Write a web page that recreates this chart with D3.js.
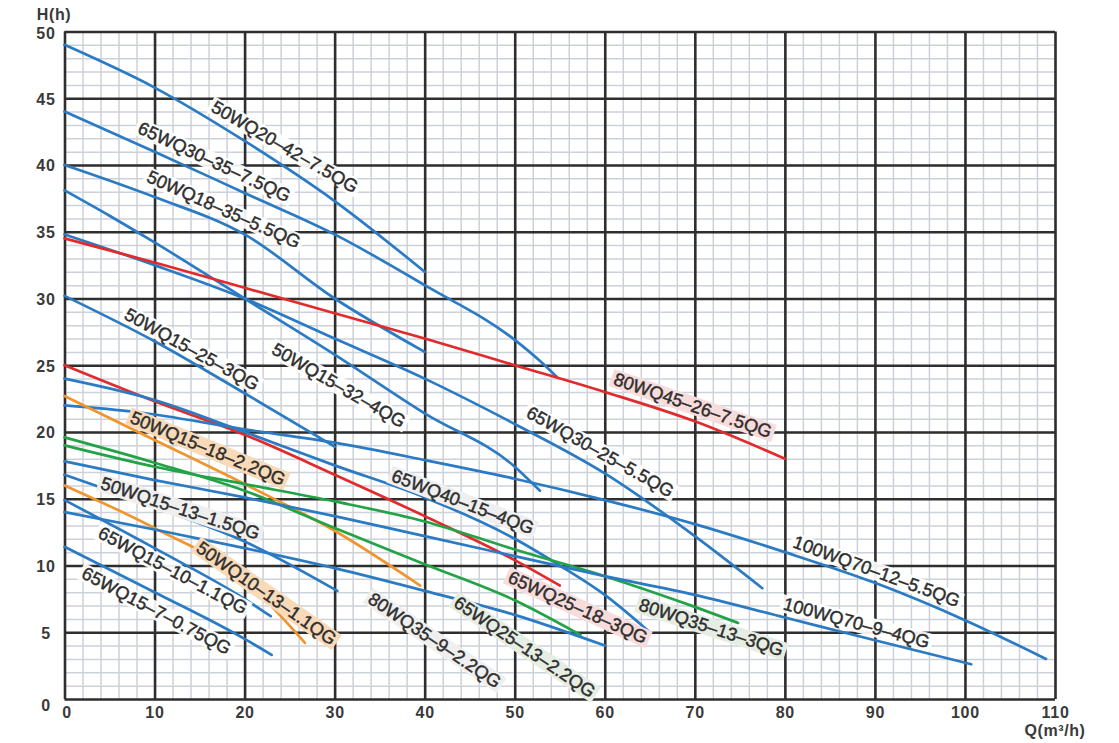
<!DOCTYPE html>
<html>
<head>
<meta charset="utf-8">
<script src="https://cdn.jsdelivr.net/npm/d3@7"></script>
<style>
html,body{margin:0;padding:0;background:#ffffff;}
svg{display:block;}
</style>
</head>
<body>
<svg id="chart" width="1119" height="743"></svg>
<script>
// ---------------- DATA ----------------
const xTicks = [0,10,20,30,40,50,60,70,80,90,100,110];
const yTicks = [0,5,10,15,20,25,30,35,40,45,50];
const xTitle = "Q(m³/h)";
const yTitle = "H(h)";

const q_50WQ20_42 = [0,10,20,30,40];
const h_50WQ20_42 = [49,45.8,41.8,37.3,32.0];

const q_65WQ30_35 = [0,10,20,30,40,50,53,54.7];
const h_65WQ30_35 = [44,41,37.9,34.8,31,26.9,25.2,24.1];

const q_50WQ18_35 = [0,10,20,30,40];
const h_50WQ18_35 = [40,37.6,34.8,30,26];

const q_50WQ15_32 = [0,5,10,20,30,40,50,52.8];
const h_50WQ15_32 = [38.1,36.2,34.2,30,25.8,21.4,17.4,15.6];

const q_65WQ30_25 = [0,10,20,30,40,50,60,70,77.5];
const h_65WQ30_25 = [34.8,32.5,30,27,24,20.6,16.9,12.2,8.3];

const q_80WQ45_26 = [0,10,20,30,40,50,60,70,80];
const h_80WQ45_26 = [34.5,32.7,30.8,28.9,27,25,23,20.8,18];

const q_50WQ15_25 = [0,10,20,30];
const h_50WQ15_25 = [30.2,26.8,22.9,18.9];

const q_65WQ25_18 = [0,10,20,30,40,50,55];
const h_65WQ25_18 = [25,22.3,19.8,16.8,13.7,10.4,8.5];

const q_65WQ40_15 = [0,10,20,30,40,50,55,60,65];
const h_65WQ40_15 = [24,22.4,20,17.5,15.1,12,10,7.8,5];

const q_100WQ70_12 = [0,8,20,30,40,50,60,70,80,90,100,109];
const h_100WQ70_12 = [22,21.5,20.2,19.2,17.9,16.5,14.9,13.1,11,8.7,5.9,3];

const q_50WQ15_18 = [0,10,20,30,39.5];
const h_50WQ15_18 = [22.7,19.4,16.1,12.6,8.5];

const q_65WQ25_13 = [0,10,20,30,40,50,57.3];
const h_65WQ25_13 = [19.6,17.7,15.6,12.8,10.1,7.4,4.8];

const q_80WQ35_13 = [0,10,20,30,40,50,60,70,74.8];
const h_80WQ35_13 = [19,17.4,16.1,14.8,13.3,11.2,9.2,6.9,5.7];

const q_100WQ70_9 = [0,10,20,30,40,50,60,70,80,90,100.7];
const h_100WQ70_9 = [17.8,16.4,15.1,13.7,12.2,10.7,9.2,7.8,6.1,4.4,2.6];

const q_50WQ15_13 = [0,10,20,30.3];
const h_50WQ15_13 = [16.8,14.4,11.8,8.1];

const q_50WQ10_13 = [0,10,20,26.7];
const h_50WQ10_13 = [16,12.8,8.9,4.2];

const q_65WQ15_10 = [0,10,20,22.9];
const h_65WQ15_10 = [14.9,11.3,7.5,6.2];

const q_80WQ35_9 = [0,10,20,30,40,50,60];
const h_80WQ35_9 = [14,12.7,11.3,9.8,8.1,6.3,4];

const q_65WQ15_7 = [0,10,20,23];
const h_65WQ15_7 = [11.4,8.0,4.5,3.3];

const seriesNames = [
  "50WQ20–42–7.5QG","65WQ30–35–7.5QG","50WQ18–35–5.5QG","50WQ15–32–4QG",
  "65WQ30–25–5.5QG","80WQ45–26–7.5QG","50WQ15–25–3QG","65WQ25–18–3QG",
  "65WQ40–15–4QG","100WQ70–12–5.5QG","50WQ15–18–2.2QG","65WQ25–13–2.2QG",
  "80WQ35–13–3QG","100WQ70–9–4QG","50WQ15–13–1.5QG","50WQ10–13–1.1QG",
  "65WQ15–10–1.1QG","80WQ35–9–2.2QG","65WQ15–7–0.75QG"
];

// ---------------- STYLE / LAYOUT ----------------
const C = {blue:"#2b7bc4", red:"#e32a2b", orange:"#f0952e", green:"#22a346"};
const BG = {white:"rgba(255,255,255,0.92)", grey:"#efefef", pink:"#f8dcdc", peach:"#f8dab8", mint:"#e6eee3"};

const seriesList = [
  [q_50WQ20_42,h_50WQ20_42,C.blue],
  [q_65WQ30_35,h_65WQ30_35,C.blue],
  [q_50WQ18_35,h_50WQ18_35,C.blue],
  [q_50WQ15_32,h_50WQ15_32,C.blue],
  [q_65WQ30_25,h_65WQ30_25,C.blue],
  [q_80WQ45_26,h_80WQ45_26,C.red],
  [q_50WQ15_25,h_50WQ15_25,C.blue],
  [q_65WQ25_18,h_65WQ25_18,C.red],
  [q_65WQ40_15,h_65WQ40_15,C.blue],
  [q_100WQ70_12,h_100WQ70_12,C.blue],
  [q_50WQ15_18,h_50WQ15_18,C.orange],
  [q_65WQ25_13,h_65WQ25_13,C.green],
  [q_80WQ35_13,h_80WQ35_13,C.green],
  [q_100WQ70_9,h_100WQ70_9,C.blue],
  [q_50WQ15_13,h_50WQ15_13,C.blue],
  [q_50WQ10_13,h_50WQ10_13,C.orange],
  [q_65WQ15_10,h_65WQ15_10,C.blue],
  [q_80WQ35_9,h_80WQ35_9,C.blue],
  [q_65WQ15_7,h_65WQ15_7,C.blue]
];

// label anchor (in data units), rotation angle (deg), background
const labelLayout = [
  [24.49,41.39,30,BG.white],
  [16.66,40.26,25,BG.white],
  [17.71,36.70,24,BG.white],
  [30.48,23.52,30,BG.white],
  [59.52,18.54,29.5,BG.white],
  [69.79,22.02,19,BG.pink],
  [14.16,26.22,29,BG.white],
  [57.02,6.89,24.5,BG.pink],
  [44.25,14.79,21,BG.grey],
  [90.19,9.59,20,BG.white],
  [15.94,18.80,22.5,BG.peach],
  [51.14,3.92,34,BG.mint],
  [71.85,5.39,18,BG.mint],
  [87.97,5.73,15,BG.white],
  [12.88,14.31,18,BG.grey],
  [22.45,7.94,35,BG.peach],
  [12.05,9.66,28,BG.white],
  [41.14,4.42,34,BG.grey],
  [10.22,6.63,28,BG.white]
];

const W = 1119, H = 743;
const pLeft = 64.5, pRight = 1055, pTop = 31.5, pBottom = 699;

const svg = d3.select("#chart");
svg.append("rect").attr("width",W).attr("height",H).attr("fill","#fff");

const x = d3.scaleLinear().domain([0,110]).range([pLeft,pRight]);
const y = d3.scaleLinear().domain([0,50]).range([pBottom,pTop]);

// minor grid
const minorX = d3.range(0,111,2);
const minorY = d3.range(0,51,1);
const gMinorX = svg.append("g").attr("transform",`translate(0,${pBottom})`)
  .call(d3.axisBottom(x).tickValues(minorX).tickSize(-(pBottom-pTop)).tickFormat(""));
gMinorX.select(".domain").remove();
gMinorX.selectAll("line").attr("stroke","#cdd1d9").attr("stroke-width",1.5);
const gMinorY = svg.append("g").attr("transform",`translate(${pLeft},0)`)
  .call(d3.axisLeft(y).tickValues(minorY).tickSize(-(pRight-pLeft)).tickFormat(""));
gMinorY.select(".domain").remove();
gMinorY.selectAll("line").attr("stroke","#cdd1d9").attr("stroke-width",1.5);

// major grid
const gMajX = svg.append("g").attr("transform",`translate(0,${pBottom})`)
  .call(d3.axisBottom(x).tickValues(xTicks).tickSize(-(pBottom-pTop)).tickFormat(""));
gMajX.select(".domain").remove();
gMajX.selectAll("line").attr("stroke","#2e2e2e").attr("stroke-width",2.6);
const gMajY = svg.append("g").attr("transform",`translate(${pLeft},0)`)
  .call(d3.axisLeft(y).tickValues(yTicks).tickSize(-(pRight-pLeft)).tickFormat(""));
gMajY.select(".domain").remove();
gMajY.selectAll("line").attr("stroke","#2e2e2e").attr("stroke-width",2.6);

// axis labels
const tickFont = "'Liberation Sans', Arial, Helvetica, sans-serif";
const gxA = svg.append("g").attr("transform",`translate(0,${pBottom})`)
  .call(d3.axisBottom(x).tickValues(xTicks).tickSize(0).tickFormat(d3.format("d")));
gxA.select(".domain").remove();
gxA.selectAll("text").attr("y",13.5).attr("dy","0.36em")
  .attr("font-family",tickFont).attr("font-size",16).attr("font-weight","bold")
  .attr("letter-spacing","0.8px").attr("fill","#3a3a3a")
  .attr("dx", d => d===0 ? 2 : 0);

const gyA = svg.append("g").attr("transform",`translate(${pLeft},0)`)
  .call(d3.axisLeft(y).tickValues(yTicks).tickSize(0).tickFormat(d3.format("d")));
gyA.select(".domain").remove();
gyA.selectAll("text").attr("x",-18.5).attr("text-anchor","middle")
  .attr("dy", d => d===0 ? "0.7em" : (d===50 ? "0.42em" : "0.36em"))
  .attr("font-family",tickFont).attr("font-size",16).attr("font-weight","bold")
  .attr("letter-spacing","0.8px").attr("fill","#3a3a3a");

svg.append("text").attr("x",54).attr("y",14).attr("dy","0.36em")
  .attr("text-anchor","middle").attr("font-family",tickFont).attr("font-size",16)
  .attr("font-weight","bold").attr("letter-spacing","0.6px").attr("fill","#3a3a3a").text(yTitle);
svg.append("text").attr("x",1055).attr("y",730).attr("dy","0.36em")
  .attr("text-anchor","middle").attr("font-family",tickFont).attr("font-size",16)
  .attr("font-weight","bold").attr("letter-spacing","0.6px").attr("fill","#3a3a3a").text(xTitle);

// curves
const line = d3.line().x(d=>x(d[0])).y(d=>y(d[1])).curve(d3.curveMonotoneX);
const gCurves = svg.append("g");
seriesList.forEach(([qs,hs,col]) => {
  const pts = qs.map((q,i)=>[q,hs[i]]);
  gCurves.append("path").attr("d",line(pts)).attr("fill","none")
    .attr("stroke",col).attr("stroke-width",2.7).attr("stroke-linecap","round").attr("stroke-linejoin","round");
});

// labels
const gLabels = svg.append("g");
seriesNames.forEach((name,i) => {
  const [lq,lh,ang,bg] = labelLayout[i];
  const g = gLabels.append("g").attr("transform",`translate(${x(lq)},${y(lh)}) rotate(${ang})`);
  const rect = g.append("rect");
  const t = g.append("text").attr("text-anchor","middle").attr("dy","0.36em")
    .attr("font-family",tickFont).attr("font-size",18.2)
    .attr("fill","#2e2e2e").attr("stroke","#2e2e2e").attr("stroke-width",0.45)
    .text(name);
  const bb = t.node().getBBox();
  rect.attr("x",bb.x-3).attr("y",bb.y+1).attr("width",bb.width+6).attr("height",bb.height-2)
    .attr("fill",bg);
});
</script>
</body>
</html>
